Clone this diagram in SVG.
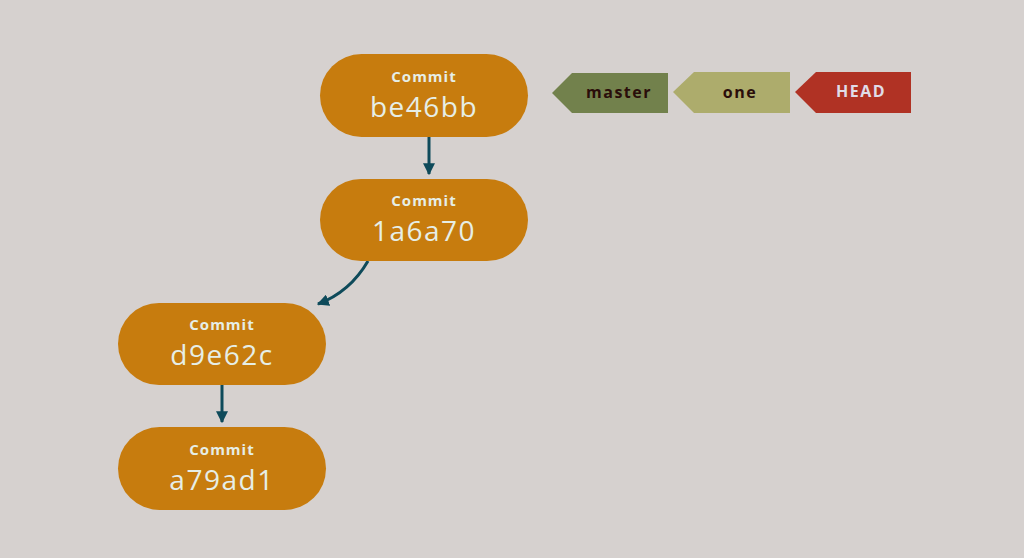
<svg xmlns="http://www.w3.org/2000/svg" width="1024" height="558" viewBox="0 0 1024 558">
<style>
.node rect{fill:#c77c0e}
.t1{font-family:"Open Sans","Noto Sans",sans-serif;font-weight:bold;font-size:15px;fill:#e6eee6;text-anchor:middle;letter-spacing:1px}
.t2{font-family:"Open Sans","Noto Sans",sans-serif;font-size:28px;fill:#e6eee6;text-anchor:middle;letter-spacing:1.5px}
.lbl{font-family:"Open Sans","Noto Sans",sans-serif;font-weight:bold;font-size:16px;text-anchor:middle;letter-spacing:1.5px}
.conn{stroke:#0e4a5a;stroke-width:3;fill:none}
</style>
<defs>
<marker id="ah" viewBox="0 0 10 10" refX="9" refY="5" markerWidth="4" markerHeight="4" orient="auto" markerUnits="strokeWidth">
<path d="M0,0 L10,5 L0,10 z" fill="#0e4a5a"/>
</marker>
</defs>
<rect width="1024" height="558" fill="#d6d1cf"/>
<g id="connectors">
<line class="conn" x1="429" y1="137" x2="429" y2="174" marker-end="url(#ah)"/>
<path class="conn" d="M368,261 Q350,292 318,304" marker-end="url(#ah)"/>
<line class="conn" x1="222" y1="385" x2="222" y2="422" marker-end="url(#ah)"/>
</g>
<g id="node-be46bb" class="node">
<rect x="320" y="54" width="208" height="83" rx="41.5"/>
<text class="t1" x="424" y="82">Commit</text>
<text class="t2" x="424" y="117">be46bb</text>
</g>
<g id="node-1a6a70" class="node">
<rect x="320" y="179" width="208" height="82" rx="41"/>
<text class="t1" x="424" y="206">Commit</text>
<text class="t2" x="424" y="241">1a6a70</text>
</g>
<g id="node-d9e62c" class="node">
<rect x="118" y="303" width="208" height="82" rx="41"/>
<text class="t1" x="222" y="330">Commit</text>
<text class="t2" x="222" y="365">d9e62c</text>
</g>
<g id="node-a79ad1" class="node">
<rect x="118" y="427" width="208" height="83" rx="41.5"/>
<text class="t1" x="222" y="455">Commit</text>
<text class="t2" x="222" y="490">a79ad1</text>
</g>
<g id="label-master">
<polygon points="552,93 572,73 668,73 668,113 572,113" fill="#72814c"/>
<text class="lbl" x="619" y="98" fill="#2a0e0a">master</text>
</g>
<g id="label-one">
<polygon points="673,92 694,72 790,72 790,113 694,113" fill="#adac6c"/>
<text class="lbl" x="740" y="98" fill="#2a0e0a">one</text>
</g>
<g id="label-HEAD">
<polygon points="795,92 816,72 911,72 911,113 816,113" fill="#b03224"/>
<text class="lbl" x="861" y="97" fill="#e0dce8">HEAD</text>
</g>
</svg>
